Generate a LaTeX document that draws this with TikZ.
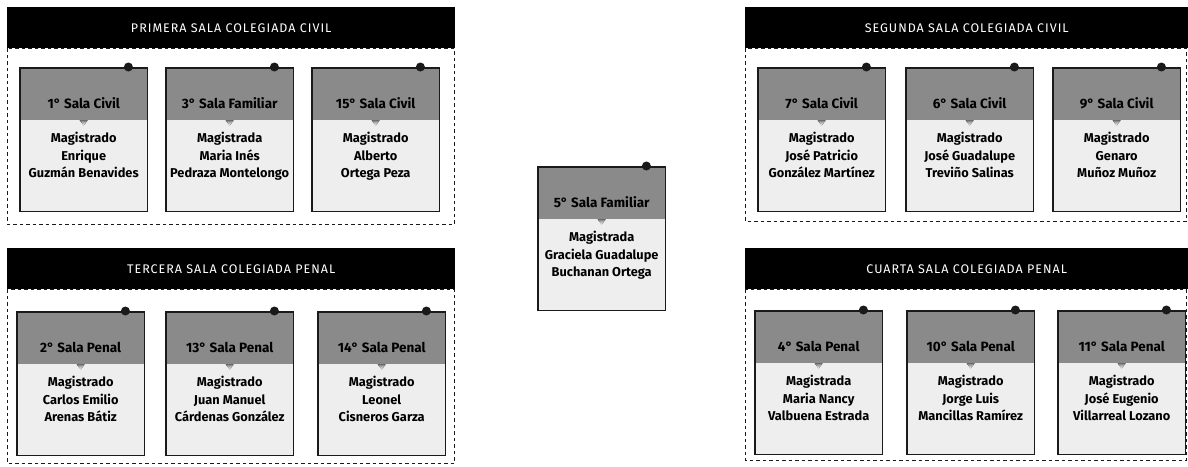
\documentclass[tikz,border=0pt]{standalone}
\usepackage{fontspec}
\setmainfont{Fira Sans}
\usetikzlibrary{positioning,calc}
\definecolor{ink}{HTML}{1A1A1A}
\definecolor{shade}{HTML}{8A8A8A}
\definecolor{paper}{HTML}{EEEEEE}

\begin{document}
\begin{tikzpicture}[x=1pt,y=-1pt,
  salabar/.style={fill=black,text=white,anchor=north west,minimum height=41pt,inner sep=0pt,
    font=\fontsize{12.5}{14}\selectfont\addfontfeatures{LetterSpace=8}},
  salaframe/.style={draw=ink,line width=1pt,dash pattern=on 3.5pt off 3pt},
  card/.style={fill=paper,minimum width=127pt,minimum height=143pt,anchor=north west,inner sep=0pt},
  cardhead/.style={fill=shade,minimum width=127pt,minimum height=52pt,anchor=north,inner sep=0pt},
  cardline/.style={draw=ink,line width=1.2pt},
  headtext/.style={font=\bfseries\fontsize{13.5}{14}\selectfont,text=black,inner sep=0pt},
  nametext/.style={font=\bfseries\fontsize{12.8}{17.5}\selectfont,align=center,inner sep=0pt}]
\useasboundingbox (0,0) rectangle (1188,466);

% colegiate chambers
\node[salabar,minimum width=448pt] (g1) at (7,7) {PRIMERA SALA COLEGIADA CIVIL};
\draw[salaframe] (g1.south west) rectangle ($(g1.south east)+(-1,176)$);
\node[salabar,minimum width=443pt] (g2) at (745,7) {SEGUNDA SALA COLEGIADA CIVIL};
\draw[salaframe] (g2.south west) rectangle ($(g2.south east)+(-2,173)$);
\node[salabar,minimum width=448pt] (g3) at (7,248) {TERCERA SALA COLEGIADA PENAL};
\draw[salaframe] (g3.south west) rectangle ($(g3.south east)+(-1,174)$);
\node[salabar,minimum width=443pt] (g4) at (745,248) {CUARTA SALA COLEGIADA PENAL};
\draw[salaframe] (g4.south west) rectangle ($(g4.south east)+(-2,171)$);

% one card per chamber
\foreach \id/\x/\y/\sala/\rol/\nombre/\apellido in {
  a/20/68/1° Sala Civil/Magistrado/Enrique/Guzmán Benavides,
  b/166/68/3° Sala Familiar/Magistrada/Maria Inés/Pedraza Montelongo,
  c/312/68/15° Sala Civil/Magistrado/Alberto/Ortega Peza,
  d/758/68/7° Sala Civil/Magistrado/José Patricio/González Martínez,
  e/906/68/6° Sala Civil/Magistrado/José Guadalupe/Treviño Salinas,
  f/1053/68/9° Sala Civil/Magistrado/Genaro/Muñoz Muñoz,
  g/538/167/5° Sala Familiar/Magistrada/Graciela Guadalupe/Buchanan Ortega,
  h/17/312/2° Sala Penal/Magistrado/Carlos Emilio/Arenas Bátiz,
  i/166/312/13° Sala Penal/Magistrado/Juan Manuel/Cárdenas González,
  j/318/312/14° Sala Penal/Magistrado/Leonel/Cisneros Garza,
  k/755/311/4° Sala Penal/Magistrada/Maria Nancy/Valbuena Estrada,
  l/907/311/10° Sala Penal/Magistrado/Jorge Luis/Mancillas Ramírez,
  m/1058/311/11° Sala Penal/Magistrado/José Eugenio/Villarreal Lozano}{
  \node[card] (c\id) at (\x,\y) {};
  \node[cardhead] (h\id) at (c\id.north) {};
  \fill[shade] ($(h\id.south)+(-4,0)$) -- ($(h\id.south)+(4,0)$) -- ($(h\id.south)+(0,5)$) -- cycle;
  \node[headtext] (t\id) at ($(h\id.south)+(0,-17)$) {\sala};
  \node[nametext,below=12pt of h\id.south] (n\id) {\rol\\\nombre\\\apellido};
  \draw[cardline] (c\id.north west) rectangle (c\id.south east);
  \fill[ink] ($(c\id.north east)+(-19,-1)$) circle (4.5pt);
}
\end{tikzpicture}
\end{document}
